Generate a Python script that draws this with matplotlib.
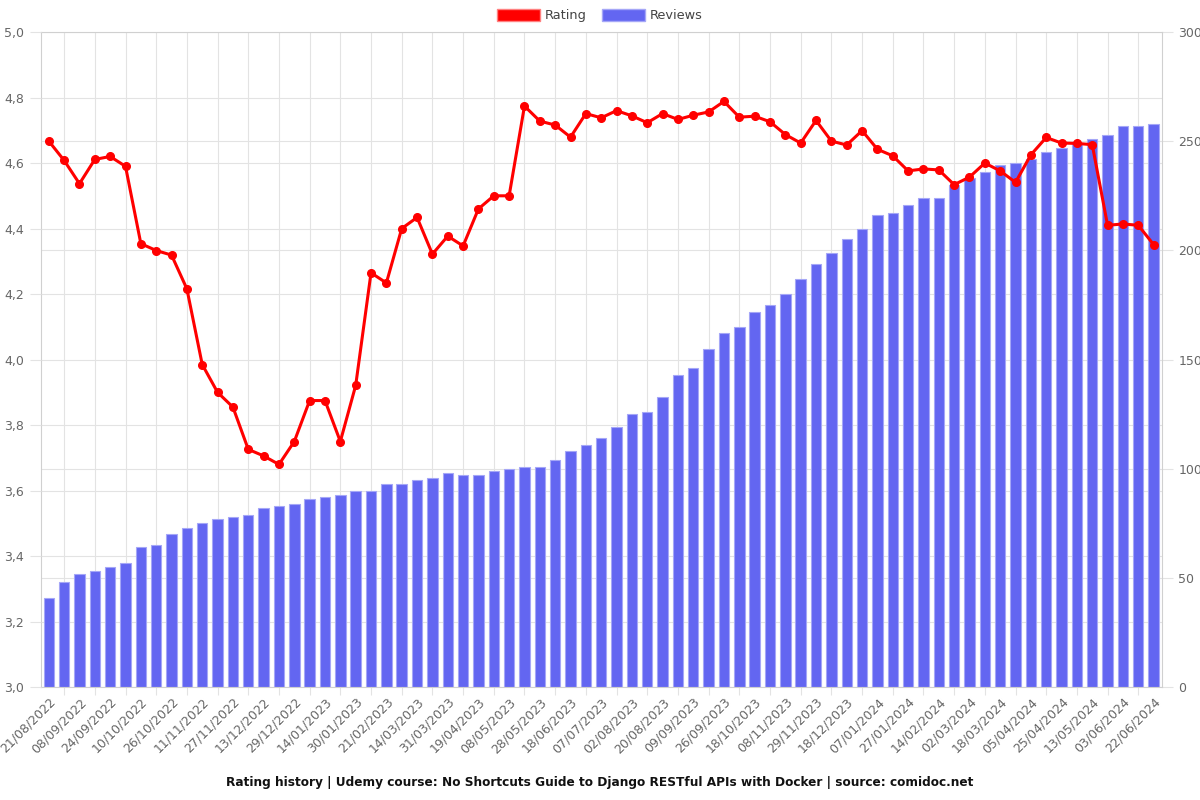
import numpy as np
import matplotlib
matplotlib.use('Agg')
import matplotlib.pyplot as plt
from matplotlib.patches import Patch
from matplotlib.ticker import FuncFormatter

# labels shown on the x axis (every other data point)
tick_labels = ['21/08/2022', '08/09/2022', '24/09/2022', '10/10/2022', '26/10/2022', '11/11/2022',
               '27/11/2022', '13/12/2022', '29/12/2022', '14/01/2023', '30/01/2023', '21/02/2023',
               '14/03/2023', '31/03/2023', '19/04/2023', '08/05/2023', '28/05/2023', '18/06/2023',
               '07/07/2023', '02/08/2023', '20/08/2023', '09/09/2023', '26/09/2023', '18/10/2023',
               '08/11/2023', '29/11/2023', '18/12/2023', '07/01/2024', '27/01/2024', '14/02/2024',
               '02/03/2024', '18/03/2024', '05/04/2024', '25/04/2024', '13/05/2024', '03/06/2024',
               '22/06/2024']

rating = [4.667, 4.608, 4.537, 4.611, 4.620, 4.590, 4.354, 4.333, 4.319, 4.216,
          3.985, 3.900, 3.855, 3.726, 3.706, 3.680, 3.750, 3.875, 3.875, 3.750,
          3.921, 4.265, 4.234, 4.400, 4.434, 4.322, 4.377, 4.347, 4.460, 4.500,
          4.500, 4.774, 4.728, 4.716, 4.679, 4.751, 4.738, 4.760, 4.744, 4.723,
          4.751, 4.733, 4.746, 4.756, 4.788, 4.740, 4.743, 4.726, 4.687, 4.661,
          4.730, 4.667, 4.655, 4.699, 4.642, 4.622, 4.576, 4.582, 4.579, 4.534,
          4.557, 4.600, 4.576, 4.541, 4.625, 4.678, 4.661, 4.660, 4.656, 4.410,
          4.414, 4.410, 4.351]

reviews = [41, 48, 52, 53, 55, 57, 64, 65, 70, 73,
           75, 77, 78, 79, 82, 83, 84, 86, 87, 88,
           90, 90, 93, 93, 95, 96, 98, 97, 97, 99,
           100, 101, 101, 104, 108, 111, 114, 119, 125, 126,
           133, 143, 146, 155, 162, 165, 172, 175, 180, 187,
           194, 199, 205, 210, 216, 217, 221, 224, 224, 230,
           233, 236, 239, 240, 242, 245, 247, 249, 251, 253,
           257, 257, 258]

rating_ticks = np.arange(3.0, 5.01, 0.2)
review_ticks = np.arange(0, 301, 50)

GRID = '#e3e3e3'
TXT = '#666666'
BAR = '#6366f1'
x = np.arange(len(rating))

fig = plt.figure(figsize=(12, 8), dpi=100)
ax = fig.add_axes([0.034, 0.141, 0.934, 0.819])
ax2 = ax.twinx()

# reviews bars (right axis)
ax.bar(x, reviews, width=0.68, color=BAR, edgecolor='#a5a7f7', linewidth=0.8, zorder=2)
ax.set_ylim(0, 300)
ax.set_xlim(-0.52, len(x) - 0.48)
ax.yaxis.tick_right()
ax.set_yticks(review_ticks)
# rating grid positions expressed on the reviews scale so they stay behind the bars
ax.set_yticks((rating_ticks - 3.0) / 2.0 * 300, minor=True)
ax.tick_params(axis='y', which='minor', length=0, labelright=False, labelleft=False)
ax.tick_params(axis='y', which='major', length=8, color=GRID, labelcolor=TXT, labelsize=9, pad=4)
ax.grid(axis='y', which='both', color=GRID, linewidth=0.8, zorder=0)

# x ticks: grid/ticks at odd indices, labels at even indices
ax.set_xticks(x[1::2])
ax.set_xticklabels([])
ax.set_xticks(x[::2], minor=True)
ax.set_xticklabels(tick_labels, minor=True, rotation=45, ha='right', rotation_mode='anchor')
ax.tick_params(axis='x', which='major', length=6, color=GRID)
ax.tick_params(axis='x', which='minor', length=0, labelcolor=TXT, labelsize=9, pad=6)
ax.grid(axis='x', which='major', color=GRID, linewidth=0.8, zorder=0)
ax.set_axisbelow(True)

for s in ax.spines.values():
    s.set_color('#d0d0d0')
    s.set_linewidth(0.8)

# rating line (left axis)
ax2.plot(x, rating, color='#ff0000', linewidth=2.2, marker='o', markersize=5.5, zorder=5)
ax2.set_ylim(3.0, 5.0)
ax2.yaxis.tick_left()
ax2.set_yticks(rating_ticks)
ax2.yaxis.set_major_formatter(FuncFormatter(lambda v, p: f'{v:.1f}'.replace('.', ',')))
ax2.tick_params(axis='y', length=8, color=GRID, labelcolor=TXT, labelsize=9, pad=4)
for s in ax2.spines.values():
    s.set_visible(False)

handles = [Patch(facecolor='#ff0000', edgecolor='#ff8080', label='Rating'),
           Patch(facecolor=BAR, edgecolor='#a5a7f7', label='Reviews')]
fig.legend(handles=handles, loc='upper center', bbox_to_anchor=(0.5, 1.003), ncol=2,
           frameon=False, fontsize=9.3, handlelength=3.3, handleheight=1.0,
           columnspacing=1.2, handletextpad=0.4, labelcolor='#444444')

fig.text(0.5, 0.022, 'Rating history | Udemy course: No Shortcuts Guide to Django RESTful APIs with Docker | source: comidoc.net',
         ha='center', va='center', fontsize=8.7, fontweight='bold', color='#111111')

fig.savefig('out.png', dpi=100)
